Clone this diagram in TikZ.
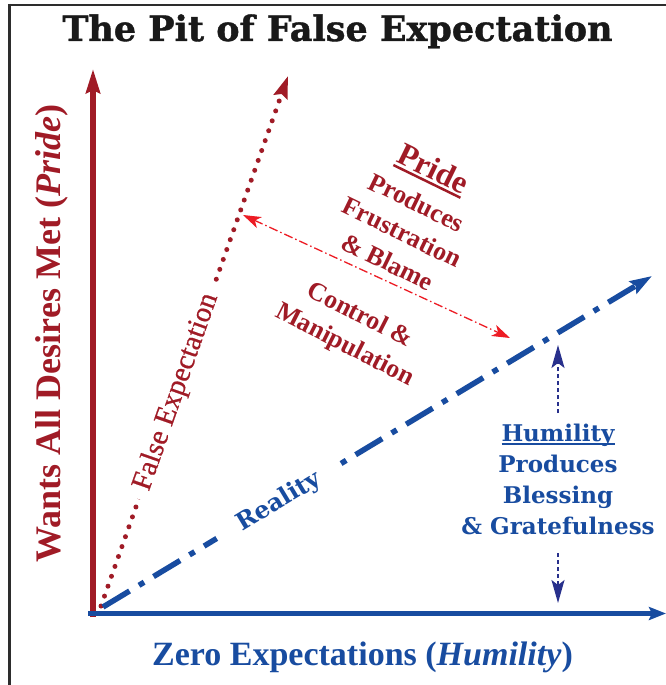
\documentclass[tikz,border=0pt]{standalone}
\usepackage{fontspec}
\setmainfont{Liberation Serif}
\newfontfamily\slabfont{DejaVu Serif}
\newfontfamily\titlefont{DejaVu Serif}[BoldFeatures={FakeBold=1.2}]
\newfontfamily\medserif{Liberation Serif}[FakeBold=0.6]
\usetikzlibrary{arrows.meta}
\definecolor{pitred}{RGB}{160,27,38}
\definecolor{pitblue}{RGB}{24,76,160}
\definecolor{brightred}{RGB}{237,28,36}
\definecolor{navyblue}{RGB}{40,48,140}
\definecolor{framegray}{RGB}{45,45,45}
\newcommand\ulthick[3]{\setbox0\hbox{#3}\rlap{\rule[-#1]{\wd0}{#2}}\box0}
\tikzset{
  redtext/.style={text=pitred, font=\bfseries\fontsize{26}{33}\selectfont, align=center},
  bluetext/.style={text=pitblue, font=\slabfont\bfseries\fontsize{23}{31}\selectfont, align=center},
  axisred/.style={draw=pitred, line width=5.5pt, -{Stealth[length=24pt,width=14pt,inset=3pt]}},
  axisblue/.style={draw=pitblue, line width=5pt, -{Stealth[length=17pt,width=13pt,inset=3pt]}},
  falseline/.style={draw=pitred, line width=5pt, line cap=round, dash pattern=on 0pt off 10.5pt,
    -{Stealth[length=22pt,width=14pt,inset=3pt]}},
  realline/.style={draw=pitblue, line width=5.5pt, dash pattern=on 31pt off 11pt on 6pt off 11pt,
    -{Stealth[length=22pt,width=14pt,inset=3pt]}},
  gaparrow/.style={draw=brightred, line width=1.3pt, dash pattern=on 9pt off 3pt on 1.5pt off 3pt,
    {Stealth[length=18pt,width=12pt,inset=5pt]}-{Stealth[length=18pt,width=12pt,inset=5pt]}},
  humarrow/.style={draw=navyblue, line width=1.5pt, dash pattern=on 4pt off 3pt,
    -{Stealth[length=23pt,width=13pt,inset=5pt]}},
}
\begin{document}
\begin{tikzpicture}[x=1pt,y=-1pt]
\useasboundingbox (0,0) rectangle (666,685);
\fill[white] (0,0) rectangle (666,685);
% frame
\draw[framegray, line width=2pt] (8,5) -- (666,5);
\draw[framegray, line width=3pt] (9.5,4) -- (9.5,685);
% coordinates
\coordinate (yb) at (93,617);
\coordinate (yt) at (93,69);
\coordinate (xl) at (88,613.5);
\coordinate (xr) at (666,613.5);
\coordinate (fs) at (101,606);
\coordinate (fe) at (288,76);
\coordinate (rs) at (103,607);
\coordinate (re) at (652,276);
\coordinate (ga) at (243,215);
\coordinate (gb) at (510,338);
\coordinate (ua) at (558,413);
\coordinate (ub) at (558,345);
\coordinate (da) at (558,553);
\coordinate (db) at (558,603);
% title
\node[text=black!90, font=\titlefont\bfseries\fontsize{35}{37}\selectfont, anchor=base] (title) at (337.5,41) {The Pit of False Expectation};
% axes
\draw[axisred] (yb) -- (yt);
\draw[axisblue] (xl) -- (xr);
% lines
\draw[falseline] (fs) -- (fe);
\draw[realline] (rs) -- (re);
\draw[gaparrow] (ga) -- (gb);
\draw[humarrow] (ua) -- (ub);
\draw[humarrow] (da) -- (db);
% labels on lines
\node[fill=white, rotate=70.6, inner xsep=10pt, inner ysep=1pt, text=pitred, font=\medserif\fontsize{29}{31}\selectfont] (falselabel) at (176.5,392) {False Expectation};
\node[fill=white, rotate=31.1, inner xsep=25pt, inner ysep=1pt, text=pitblue, font=\slabfont\bfseries\fontsize{24}{26}\selectfont] (reality) at (279,502) {Reality};
% axis labels
\node[rotate=90, anchor=base, text=pitred, font=\bfseries\fontsize{36}{40}\selectfont] (ylabel) at (60,333.5) {Wants All Desires Met (\textit{Pride})};
\node[anchor=base, text=pitblue, font=\bfseries\fontsize{34}{37}\selectfont] (xlabel) at (362.5,665) {Zero Expectations (\textit{Humility})};
% text blocks
\node[redtext, rotate=-26] (pride) at (411,214) {{\fontsize{32}{36}\selectfont\ulthick{5pt}{2.5pt}{Pride}}\\[3pt] Produces\\ Frustration\\ \& Blame};
\node[redtext, rotate=-27] (control) at (352,331) {Control \&\\ Manipulation};
\node[bluetext] (humility) at (558,479) {\ulthick{4pt}{2pt}{Humility}\\ Produces\\ Blessing\\ \& Gratefulness};
\end{tikzpicture}
\end{document}
